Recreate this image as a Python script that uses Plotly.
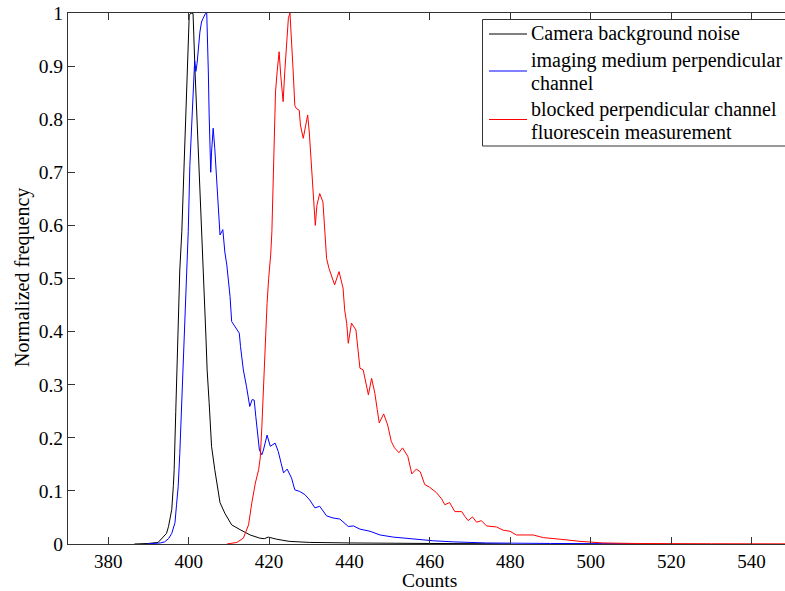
import plotly.graph_objects as go

# ---- data ----
black_x = [386.5, 388, 390, 392.4, 393.3, 394.5, 395, 395.5, 395.8, 396.2, 396.4, 396.8, 397.2, 397.5,
           397.8, 398.3, 398.7, 399.1, 399.5, 399.9, 400.15, 400.6, 401.1, 401.6, 402, 402.4, 402.8,
           403.2, 403.6, 404.3, 404.6, 405.1, 405.7, 406.5, 407.4, 407.8, 409, 410.7, 412.8, 415.3,
           417.7, 418.8, 419.8, 421.9, 425, 430, 440, 450, 460, 474, 480]
black_y = [0, 0, 0.001, 0.003, 0.011, 0.02, 0.033, 0.055, 0.065, 0.11, 0.14, 0.25, 0.36, 0.45,
           0.516, 0.588, 0.682, 0.764, 0.851, 0.939, 0.996, 1.0, 0.999, 0.889, 0.808, 0.732, 0.663,
           0.588, 0.52, 0.39, 0.328, 0.266, 0.184, 0.14, 0.09, 0.078, 0.058, 0.036, 0.027, 0.017,
           0.011, 0.010, 0.013, 0.009, 0.005, 0.003, 0.002, 0.001, 0.001, 0.0005, 0]

blue_x = [389.5, 392, 393, 394, 395, 395.8, 396.6, 397, 397.4, 397.8, 398.1, 398.5, 399.1, 399.6,
          399.9, 400.3, 400.7, 401.1, 401.5, 401.8, 402.1, 402.8, 403.2, 403.6, 404.2, 404.5, 404.7,
          404.9, 405.1, 405.5, 405.7, 406.1, 406.5, 407, 407.4, 407.8, 408.5, 409, 409.5, 409.9,
          410.3, 410.7, 411.9, 412.6, 412.9, 413.6, 414.4, 415.2, 415.8, 416.3, 416.7, 417.1, 417.6,
          418.2, 418.6, 419.5, 420.3, 421.5, 422.3, 423, 423.6, 424.5, 425.6, 426.4, 427.6, 428.9,
          430.1, 431.4, 432.6, 434.3, 435.9, 437.6, 439.7, 441, 442.6, 445.1, 447.6, 450.9, 455.9,
          460.9, 465.9, 474, 490, 511]
blue_y = [0, 0.001, 0.002, 0.004, 0.010, 0.02, 0.04, 0.075, 0.108, 0.17, 0.234, 0.32, 0.45, 0.52,
          0.588, 0.713, 0.789, 0.84, 0.91, 0.89, 0.905, 0.964, 0.983, 0.99, 0.999, 1.0, 0.952,
          0.889, 0.808, 0.70, 0.738, 0.783, 0.745, 0.676, 0.626, 0.582, 0.592, 0.55, 0.525, 0.50,
          0.466, 0.419, 0.406, 0.397, 0.372, 0.328, 0.296, 0.259, 0.272, 0.271, 0.24, 0.215, 0.177,
          0.168, 0.177, 0.205, 0.184, 0.19, 0.174, 0.152, 0.134, 0.141, 0.124, 0.102, 0.099, 0.093,
          0.083, 0.068, 0.071, 0.053, 0.049, 0.047, 0.033, 0.034, 0.028, 0.024, 0.017, 0.013, 0.009,
          0.006, 0.004, 0.002, 0.001, 0.0005]

red_x = [409.5, 412, 413.6, 414.9, 415.7, 416.1, 416.6, 417.4, 417.8, 418.2, 418.6, 419.1, 419.5,
         419.9, 420.4, 420.7, 420.9, 421, 421.3, 421.6, 422, 422.5, 422.9, 423.3, 423.5, 423.9,
         424.4, 424.8, 425.2, 425.6, 426, 426.4, 426.8, 427.5, 427.8, 428.5, 429.1, 429.6, 430,
         430.4, 430.8, 431.1, 431.5, 431.9, 432.6, 433.4, 433.9, 434.3, 434.9, 435.6, 436.3, 437.4,
         438.4, 438.8, 439.3, 439.7, 440.5, 441.6, 442.1, 442.6, 443.4, 444.1, 444.7, 445.5, 446.3,
         446.9, 447.4, 448.5, 449.5, 450.4, 451.2, 452.3, 453.2, 454.5, 455.5, 456.6, 457.6, 458.7,
         459.9, 461.6, 462.9, 463.7, 464.9, 466.2, 467.9, 468.7, 469.5, 470.6, 471.6, 472.8, 474.1,
         476.6, 478.2, 479.9, 481.5, 485.7, 488.2, 492.4, 497.3, 503.1, 511, 530, 550]
red_y = [0, 0.003, 0.011, 0.036, 0.077, 0.096, 0.115, 0.14, 0.162, 0.22, 0.296, 0.372, 0.453,
         0.50, 0.544, 0.588, 0.651, 0.707, 0.776, 0.851, 0.889, 0.927, 0.883, 0.851, 0.833, 0.889,
         0.952, 0.99, 1.0, 0.952, 0.889, 0.826, 0.82, 0.817, 0.789, 0.764, 0.789, 0.808, 0.776,
         0.732, 0.688, 0.651, 0.60, 0.638, 0.66, 0.644, 0.588, 0.538, 0.519, 0.505, 0.488, 0.513,
         0.482, 0.441, 0.416, 0.378, 0.416, 0.403, 0.372, 0.331, 0.328, 0.303, 0.281, 0.312, 0.284,
         0.253, 0.228, 0.245, 0.224, 0.193, 0.181, 0.172, 0.181, 0.165, 0.132, 0.141, 0.136, 0.112,
         0.107, 0.097, 0.085, 0.074, 0.078, 0.061, 0.061, 0.052, 0.044, 0.051, 0.041, 0.044, 0.034,
         0.032, 0.026, 0.024, 0.017, 0.017, 0.012, 0.009, 0.005, 0.002, 0.001, 0.0005, 0.0003]

x_ticks = [380, 400, 420, 440, 460, 480, 500, 520, 540]
y_ticks = [0, 0.1, 0.2, 0.3, 0.4, 0.5, 0.6, 0.7, 0.8, 0.9, 1]
y_tick_labels = ["0", "0.1", "0.2", "0.3", "0.4", "0.5", "0.6", "0.7", "0.8", "0.9", "1"]

series_names = ["Camera background noise",
                "imaging medium perpendicular channel",
                "blocked perpendicular channel fluorescein measurement"]
legend_lines = [["Camera background noise"],
                ["imaging medium perpendicular", "channel"],
                ["blocked perpendicular channel", "fluorescein measurement"]]
colors = ["#000000", "#0000ff", "#ff0000"]

FONT = "Liberation Serif"
W, H = 785, 591
ML, MR, MT, MB = 68, 0, 13, 47
PW, PH = W - ML - MR, H - MT - MB


def px2paper(px, py):
    return (px - ML) / PW, (H - MB - py) / PH


fig = go.Figure()
for xs, ys, nm, c in zip([black_x, blue_x, red_x], [black_y, blue_y, red_y], series_names, colors):
    fig.add_trace(go.Scatter(x=xs, y=ys, mode="lines", name=nm, showlegend=False,
                             line=dict(color=c, width=1)))

# ---- manual legend (MATLAB style box) ----
shapes = []
annotations = []
bx0, by0 = px2paper(482.5, 19.5)
bx1, by1 = px2paper(800, 146)
shapes.append(dict(type="rect", xref="paper", yref="paper", x0=bx0, x1=bx1, y0=by1, y1=by0,
                   line=dict(color="#333333", width=1), fillcolor="white", layer="above"))
sample_y = [34, 71, 119.5]
text_y = [[34], [60, 83], [109.5, 132]]
for c, sy, lines, tys in zip(colors, sample_y, legend_lines, text_y):
    sx0, syp = px2paper(489, sy)
    sx1, _ = px2paper(527, sy)
    shapes.append(dict(type="line", xref="paper", yref="paper", x0=sx0, x1=sx1, y0=syp, y1=syp,
                       line=dict(color=c, width=1), layer="above"))
    for t, ty in zip(lines, tys):
        ax, ay = px2paper(529, ty)
        annotations.append(dict(text=t, xref="paper", yref="paper", x=ax, y=ay,
                                xanchor="left", yanchor="middle", showarrow=False,
                                font=dict(family=FONT, size=20, color="black")))

# axis titles placed as annotations (exact positions)
tx, ty = px2paper(429, 580.8)
annotations.append(dict(text="Counts", xref="paper", yref="paper", x=tx, y=ty,
                        xanchor="center", yanchor="middle", showarrow=False,
                        font=dict(family=FONT, size=19.5, color="black")))
tx, ty = px2paper(22, 278)
annotations.append(dict(text="Normalized frequency", xref="paper", yref="paper", x=tx, y=ty,
                        xanchor="center", yanchor="middle", showarrow=False, textangle=-90,
                        font=dict(family=FONT, size=20, color="black")))

fig.update_layout(
    width=W, height=H,
    margin=dict(l=ML, r=MR, t=MT, b=MB, autoexpand=False),
    paper_bgcolor="white", plot_bgcolor="white",
    font=dict(family=FONT, size=20, color="black"),
    showlegend=False,
    shapes=shapes,
    annotations=annotations,
    xaxis=dict(range=[370, 548.3], tickvals=x_ticks, ticks="inside", ticklen=7,
               tickcolor="#333333", showline=True, linecolor="#333333", linewidth=1,
               mirror="ticks", showgrid=False, zeroline=False, automargin=False,
               tickfont=dict(family=FONT, size=19)),
    yaxis=dict(range=[0, 1], tickvals=y_ticks, ticktext=y_tick_labels, ticks="inside",
               ticklen=7, tickcolor="#333333", showline=True, linecolor="#333333",
               linewidth=1, mirror=False, showgrid=False, zeroline=False, automargin=False,
               tickfont=dict(family=FONT, size=19.5)),
)

fig.write_html("out.html")
